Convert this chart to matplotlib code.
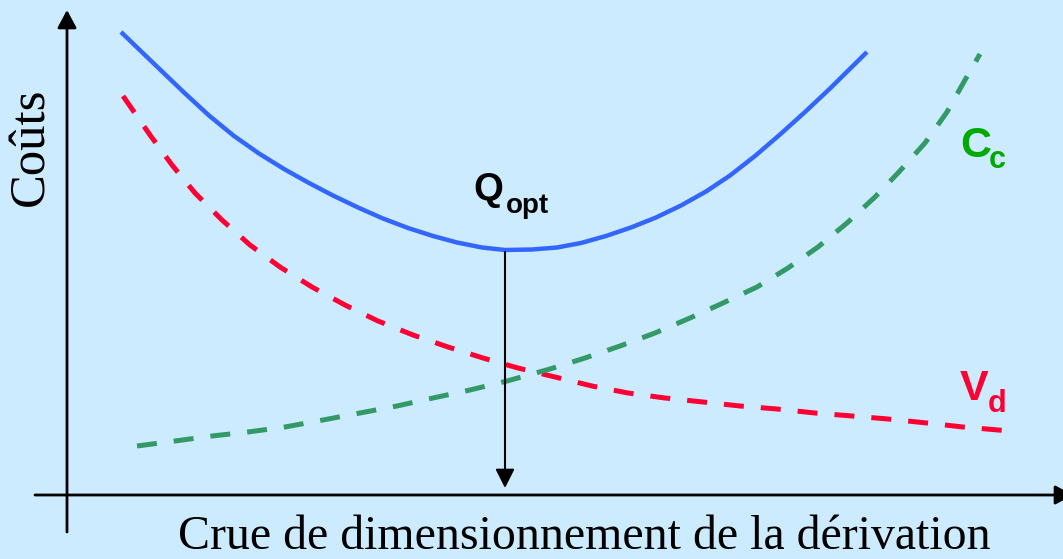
import matplotlib
matplotlib.use("Agg")
import matplotlib.pyplot as plt

# ---- data (arbitrary units) ----
total_x = [5.4, 6.8, 9.3, 11.7, 14.2, 16.7, 19.2, 21.7, 24.2, 26.6, 29.1, 31.6, 34.1, 36.6, 39.0, 41.5,
           43.8, 46.5, 49.0, 51.4, 53.9, 56.4, 58.9, 61.4, 63.9, 66.3, 68.8, 71.3, 73.8, 76.3, 80.0]
total_y = [46.3, 44.95, 42.55, 40.25, 37.95, 35.9, 34.15, 32.6, 31.2, 29.95, 28.75, 27.65, 26.7, 25.9,
           25.25, 24.75, 24.5, 24.55, 24.75, 25.2, 25.9, 26.75, 27.75, 28.95, 30.35, 31.95, 33.9,
           36.05, 38.3, 40.65, 44.3]

vd_x = [5.6, 8.3, 10.5, 12.8, 15.5, 18.3, 21.3, 24.5, 27.8, 31.1, 34.6, 38.1, 41.6, 45.1,
        48.8, 52.5, 56.1, 59.8, 63.6, 67.3, 71.0, 74.8, 78.5, 82.1, 86.0, 89.6, 94.3]
vd_y = [39.9, 36.0, 33.0, 30.2, 27.5, 25.0, 22.8, 20.8, 19.0, 17.4, 16.0, 14.8, 13.7, 12.7,
        11.8, 10.9, 10.2, 9.7, 9.3, 8.9, 8.6, 8.2, 7.9, 7.6, 7.2, 6.8, 6.4]

cc_x = [7.0, 10.8, 14.5, 18.1, 21.8, 25.6, 29.3, 33.0, 36.6, 40.3, 44.0, 48.3, 51.8, 55.3, 58.8,
        62.3, 65.6, 69.0, 72.1, 75.1, 78.0, 80.8, 83.1, 85.8, 88.0, 89.8, 91.3]
cc_y = [4.9, 5.4, 5.9, 6.3, 6.8, 7.5, 8.2, 8.9, 9.7, 10.5, 11.4, 12.6, 13.7, 14.9, 16.2,
        17.7, 19.2, 20.8, 22.7, 24.8, 27.2, 29.8, 32.2, 35.2, 38.3, 41.5, 44.1]

q_opt_x = 43.8
q_opt_y = 24.5

xlabel = "Crue de dimensionnement de la dérivation"
ylabel = "Coûts"

# ---- figure ----
BG = "#CCEBFF"
fig = plt.figure(figsize=(10.63, 5.59), dpi=100, facecolor=BG)
ax = fig.add_axes([0, 0, 1, 1])
ax.set_facecolor(BG)
ax.set_xlim(-6.7, 99.6)
ax.set_ylim(-6.4, 49.5)
ax.axis("off")

# curves
ax.plot(total_x, total_y, color="#3366FF", lw=3.2, solid_capstyle="butt",
        solid_joinstyle="round", zorder=3)
l1, = ax.plot(vd_x, vd_y, color="#FF0033", lw=3.6, dash_capstyle="butt", zorder=3)
l1.set_dashes((4.0, 3.4))
l2, = ax.plot(cc_x, cc_y, color="#339966", lw=3.6, dash_capstyle="butt", zorder=3)
l2.set_dashes((4.0, 3.4))

# axes with arrows
arrow_kw = dict(arrowstyle="-|>,head_length=10.8,head_width=5.8", color="black",
                lw=2.0, shrinkA=0, shrinkB=0, mutation_scale=1)
ax.annotate("", xy=(0, 48.5), xytext=(0, -3.7), arrowprops=arrow_kw,
            annotation_clip=False, zorder=4)
ax.annotate("", xy=(100.6, 0), xytext=(-3.2, 0), arrowprops=arrow_kw,
            annotation_clip=False, zorder=4)

# optimum arrow
arrow_kw2 = dict(arrowstyle="-|>,head_length=11.5,head_width=5.8", color="black",
                 lw=1.5, shrinkA=0, shrinkB=0, mutation_scale=1)
ax.annotate("", xy=(q_opt_x, 0.7), xytext=(q_opt_x, q_opt_y - 0.2), arrowprops=arrow_kw2,
            annotation_clip=False, zorder=4)

# labels
ax.text(40.6, 29.5, "Q", fontsize=27.5, fontweight="bold", family="Liberation Sans",
        ha="left", va="baseline", color="black")
ax.text(43.9, 28.2, "opt", fontsize=20, fontweight="bold", family="Liberation Sans",
        ha="left", va="baseline", color="black")

ax.text(89.3, 33.8, "C", fontsize=31, fontweight="bold", family="Liberation Sans",
        ha="left", va="baseline", color="#00AA00")
ax.text(92.2, 32.7, "c", fontsize=22, fontweight="bold", family="Liberation Sans",
        ha="left", va="baseline", color="#00AA00")

ax.text(89.3, 9.5, "V", fontsize=31, fontweight="bold", family="Liberation Sans",
        ha="left", va="baseline", color="#FF0033")
ax.text(92.1, 8.3, "d", fontsize=22, fontweight="bold", family="Liberation Sans",
        ha="left", va="baseline", color="#FF0033")

ax.text(51.7, -5.4, xlabel, fontsize=34.5, family="Liberation Serif",
        ha="center", va="baseline", color="black")
ax.text(-3.6, 34.8, ylabel, fontsize=36.5, family="Liberation Serif", rotation=90,
        ha="center", va="center", color="black")

fig.savefig("out.png", dpi=100, facecolor=BG)
